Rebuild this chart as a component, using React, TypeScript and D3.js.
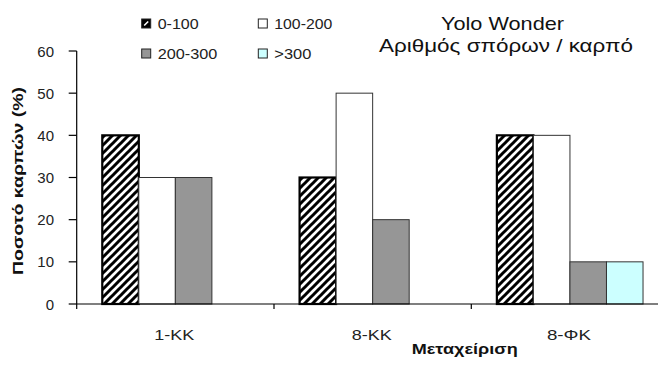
import React from "react";
import * as d3 from "d3";

// Seed-count distribution per treatment (percent of fruits)
const categories = ["1-ΚΚ", "8-ΚΚ", "8-ΦΚ"];
const seriesNames = ["0-100", "100-200", "200-300", ">300"];
const s0to100 = [40, 30, 40];
const s100to200 = [30, 50, 40];
const s200to300 = [30, 20, 10];
const sOver300 = [0, 0, 10];
const yTicks = [0, 10, 20, 30, 40, 50, 60];

const seriesValues = [s0to100, s100to200, s200to300, sOver300];

const W = 658;
const H = 369;
const FONT = "Arial, 'Liberation Sans', Helvetica, sans-serif";

const fills = ["url(#hatch)", "#ffffff", "#969696", "#ccffff"];

export default function App() {
  const x0 = d3.scaleBand<string>().domain(categories).range([76.7, 668.6]).padding(0);
  const x1 = d3
    .scaleBand<string>()
    .domain(seriesNames)
    .range([0, x0.bandwidth()])
    .paddingInner(0)
    .paddingOuter(0.7);
  const y = d3.scaleLinear().domain([0, 60]).range([304, 51]);

  const axisX0 = x0.range()[0];
  const baseY = y(0);

  const legendItems = [
    { name: seriesNames[0], sx: 141.7, sy: 19, tx: 157.7, ty: 28.5, len: 41 },
    { name: seriesNames[1], sx: 258.3, sy: 19, tx: 274.3, ty: 28.5, len: 58 },
    { name: seriesNames[2], sx: 141.7, sy: 49, tx: 157.7, ty: 58.5, len: 59.6 },
    { name: seriesNames[3], sx: 258.3, sy: 49, tx: 274.3, ty: 58.5, len: 37 },
  ];

  return (
    <div style={{ position: "absolute", left: 0, top: 0 }}>
      <svg width={W} height={H} style={{ display: "block", background: "#fff" }} fontFamily={FONT}>
        <defs>
          <pattern id="hatch" patternUnits="userSpaceOnUse" width={8} height={8}>
            <rect width={8} height={8} fill="#fff" />
            <path d="M-2,2 L2,-2 M0,8 L8,0 M6,10 L10,6" stroke="#000" strokeWidth={3} />
          </pattern>
        </defs>

        {/* bars */}
        <g>
          {categories.map((c, ci) =>
            seriesNames.map((s, si) => {
              const v = seriesValues[si][ci];
              if (!v) return null;
              const bx = (x0(c) as number) + (x1(s) as number);
              const top = y(v);
              return (
                <rect
                  key={c + s}
                  x={bx}
                  y={top}
                  width={x1.bandwidth()}
                  height={baseY - top}
                  fill={fills[si]}
                  stroke={si === 0 ? "#000" : "#333"}
                  strokeWidth={si === 0 ? 2.2 : 1}
                />
              );
            })
          )}
        </g>

        {/* y axis */}
        <line x1={axisX0} x2={axisX0} y1={y(60)} y2={baseY} stroke="#000" strokeWidth={1.2} />
        {yTicks.map((t) => (
          <g key={t}>
            <line x1={axisX0 - 8} x2={axisX0} y1={y(t)} y2={y(t)} stroke="#000" strokeWidth={1.2} />
            <text x={54} y={y(t)} dy="0.37em" textAnchor="end" fontSize={15} fill="#222">
              {t}
            </text>
          </g>
        ))}

        {/* x axis */}
        <line x1={axisX0} x2={W} y1={baseY} y2={baseY} stroke="#000" strokeWidth={1.2} />
        {categories.map((c) => (
          <line
            key={"t" + c}
            x1={x0(c) as number}
            x2={x0(c) as number}
            y1={baseY}
            y2={baseY + 5}
            stroke="#000"
            strokeWidth={1.2}
          />
        ))}
        {categories.map((c) => (
          <text
            key={"l" + c}
            x={(x0(c) as number) + x0.bandwidth() / 2 - 1}
            y={339.5}
            textAnchor="middle"
            fontSize={15}
            fill="#222"
            textLength={c === "8-ΦΚ" ? 44 : 40}
            lengthAdjust="spacingAndGlyphs"
          >
            {c}
          </text>
        ))}

        {/* axis titles */}
        <text
          x={464.7}
          y={353.5}
          textAnchor="middle"
          fontSize={15}
          fontWeight="bold"
          fill="#111"
          textLength={106}
          lengthAdjust="spacingAndGlyphs"
        >
          Μεταχείριση
        </text>
        <text
          transform="translate(23,181) rotate(-90)"
          textAnchor="middle"
          fontSize={15}
          fontWeight="bold"
          fill="#111"
          textLength={188}
          lengthAdjust="spacingAndGlyphs"
        >
          Ποσοτό καρπών (%)
        </text>

        {/* title */}
        <text x={502.5} y={29.5} textAnchor="middle" fontSize={18.5} fill="#111" textLength={123} lengthAdjust="spacingAndGlyphs">
          Yolo Wonder
        </text>
        <text x={506} y={51.5} textAnchor="middle" fontSize={18.5} fill="#111" textLength={254} lengthAdjust="spacingAndGlyphs">
          Αριθμός σπόρων / καρπό
        </text>

        {/* legend */}
        {legendItems.map((it, i) => (
          <g key={it.name}>
            <rect
              x={it.sx}
              y={it.sy}
              width={9}
              height={9}
              fill={i === 0 ? "#000" : fills[i]}
              stroke="#222"
              strokeWidth={1}
            />
            {i === 0 && (
              <path
                d={`M${it.sx + 2.5},${it.sy + 6.5} L${it.sx + 6.5},${it.sy + 2.5}`}
                stroke="#fff"
                strokeWidth={1.6}
              />
            )}
            <text
              x={it.tx}
              y={it.ty}
              fontSize={14}
              fill="#222"
              textLength={it.len}
              lengthAdjust="spacingAndGlyphs"
            >
              {it.name}
            </text>
          </g>
        ))}
      </svg>
    </div>
  );
}
